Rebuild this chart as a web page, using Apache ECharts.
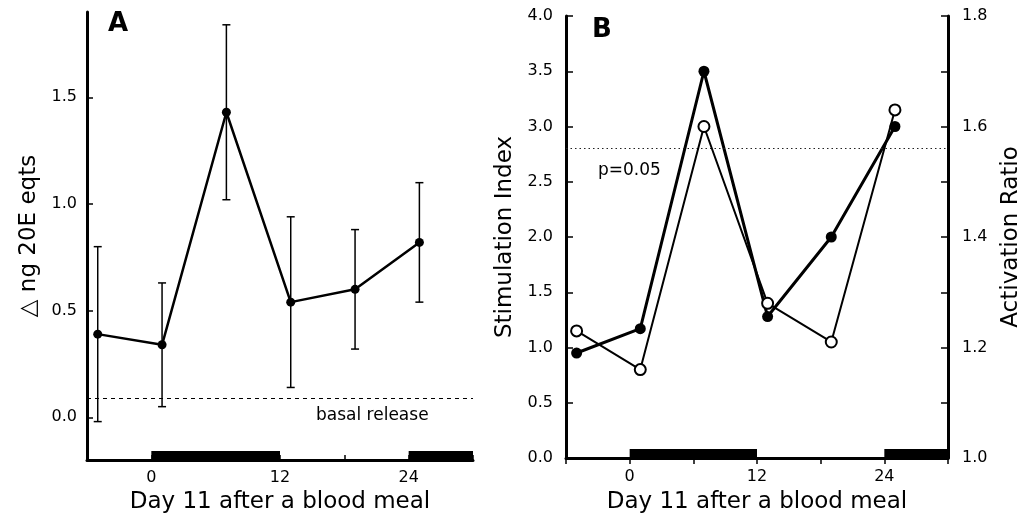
<!DOCTYPE html>
<html>
<head>
<meta charset="utf-8">
<script src="https://cdn.jsdelivr.net/npm/echarts@6/dist/echarts.min.js"></script>
<style>html,body{margin:0;padding:0;background:#fff}#c{width:1029px;height:519px}</style>
</head>
<body>
<div id="c"></div>
<script>
// ---- data ----
const hours = [-5, 1, 7, 13, 19, 25];
const releaseA = [0.39, 0.34, 1.43, 0.54, 0.60, 0.82];
const releaseLow = [-0.02, 0.05, 1.02, 0.14, 0.32, 0.54];
const releaseHigh = [0.80, 0.63, 1.84, 0.94, 0.88, 1.10];
const stimIndex = [0.95, 1.17, 3.5, 1.28, 2.0, 3.0];
const activationRatio = [1.23, 1.16, 1.60, 1.28, 1.21, 1.63];
const basalRelease = 0.09;
const pThreshold = 2.8;
const darkPeriods = [[0, 12], [24, 30]];
const xTickLabels = [0, 12, 24];
const yTicksA = [0, 0.5, 1.0, 1.5];
const xTitle = 'Day 11 after a blood meal';
const yTitleA = '\u25B3 ng 20E eqts';
const yTitleB = 'Stimulation Index';
const yTitleB2 = 'Activation Ratio';

const FONT = '"DejaVu Sans", sans-serif';
const yMinA = -0.2, yMaxA = 1.9;
const yMinB = 0;

const chart = echarts.init(document.getElementById('c'), null, {renderer: 'canvas'});

function zip(xs, ys) { return xs.map((x, i) => [x, ys[i]]); }

function darkRender(yMin) {
  return function (params, api) {
    const s = api.coord([api.value(0), yMin]);
    const e = api.coord([api.value(1), yMin]);
    return {type: 'rect', shape: {x: s[0], y: s[1] - 9, width: e[0] - s[0], height: 9}, style: {fill: '#000'}};
  };
}

function errRender(params, api) {
  const x = api.value(0);
  const lo = api.coord([x, api.value(1)]);
  const hi = api.coord([x, api.value(2)]);
  const w = 4;
  const st = {stroke: '#000', lineWidth: 1.5};
  return {type: 'group', children: [
    {type: 'line', shape: {x1: lo[0], y1: lo[1], x2: hi[0], y2: hi[1]}, style: st},
    {type: 'line', shape: {x1: lo[0] - w, y1: lo[1], x2: lo[0] + w, y2: lo[1]}, style: st},
    {type: 'line', shape: {x1: hi[0] - w, y1: hi[1], x2: hi[0] + w, y2: hi[1]}, style: st}
  ]};
}

const labelStyle = {color: '#000', fontSize: 16, fontFamily: FONT};
const nameStyle = {color: '#000', fontSize: 23, fontFamily: FONT};

const option = {
  animation: false,
  backgroundColor: '#fff',
  textStyle: {fontFamily: FONT},
  grid: [
    {left: 87, top: 12, width: 386, height: 448},
    {left: 566, top: 16, width: 382, height: 448}
  ],
  xAxis: [
    {
      gridIndex: 0, type: 'value', min: -6, max: 30, interval: 6,
      axisLine: {onZero: false, lineStyle: {color: '#000', width: 3}},
      axisTick: {inside: true, length: 5, lineStyle: {color: '#000', width: 1.5}},
      axisLabel: Object.assign({customValues: xTickLabels, margin: 10}, labelStyle),
      splitLine: {show: false},
      name: xTitle, nameLocation: 'middle', nameGap: 24, nameTextStyle: nameStyle
    },
    {
      gridIndex: 1, type: 'value', min: -6, max: 30, interval: 6,
      axisLine: {onZero: false, lineStyle: {color: '#000', width: 3}},
      axisTick: {inside: false, length: 6, lineStyle: {color: '#000', width: 1.5}},
      axisLabel: Object.assign({customValues: xTickLabels, margin: 11}, labelStyle),
      splitLine: {show: false},
      name: xTitle, nameLocation: 'middle', nameGap: 33, nameTextStyle: nameStyle
    }
  ],
  yAxis: [
    {
      gridIndex: 0, type: 'value', min: yMinA, max: yMaxA,
      axisLine: {show: true, onZero: false, lineStyle: {color: '#000', width: 3}},
      axisTick: {inside: true, length: 6, customValues: yTicksA, lineStyle: {color: '#000', width: 1.5}},
      axisLabel: Object.assign({customValues: yTicksA, margin: 10, formatter: v => v.toFixed(1)}, labelStyle),
      splitLine: {show: false},
      name: yTitleA, nameLocation: 'middle', nameGap: 46, nameRotate: 90, nameTextStyle: nameStyle
    },
    {
      gridIndex: 1, type: 'value', min: 0, max: 4, interval: 0.5, position: 'left',
      axisLine: {show: true, onZero: false, lineStyle: {color: '#000', width: 3}},
      axisTick: {inside: true, length: 7, lineStyle: {color: '#000', width: 1.5}},
      axisLabel: Object.assign({margin: 13, formatter: v => v.toFixed(1)}, labelStyle),
      splitLine: {show: false},
      name: yTitleB, nameLocation: 'middle', nameGap: 49, nameRotate: 90, nameTextStyle: nameStyle
    },
    {
      gridIndex: 1, type: 'value', min: 1.0, max: 1.8, interval: 0.1, position: 'right',
      axisLine: {show: true, onZero: false, lineStyle: {color: '#000', width: 3}},
      axisTick: {inside: true, length: 7, lineStyle: {color: '#000', width: 1.5}},
      axisLabel: Object.assign({margin: 14, formatter: v => (Math.round(v * 10) % 2 === 0 ? v.toFixed(1) : '')}, labelStyle),
      splitLine: {show: false},
      name: yTitleB2, nameLocation: 'middle', nameGap: 52, nameRotate: 90, nameTextStyle: nameStyle
    }
  ],
  series: [
    {
      type: 'custom', xAxisIndex: 0, yAxisIndex: 0, clip: false, silent: true,
      data: darkPeriods, renderItem: darkRender(yMinA), z: 5
    },
    {
      type: 'custom', xAxisIndex: 0, yAxisIndex: 0, clip: false, silent: true,
      data: hours.map((h, i) => [h, releaseLow[i], releaseHigh[i]]), renderItem: errRender, z: 3
    },
    {
      type: 'line', xAxisIndex: 0, yAxisIndex: 0, data: zip(hours, releaseA),
      symbol: 'circle', symbolSize: 9, itemStyle: {color: '#000'},
      lineStyle: {color: '#000', width: 2.5}, z: 4,
      markLine: {
        silent: true, symbol: 'none', label: {show: false},
        lineStyle: {color: '#000', type: [4, 4], width: 1},
        data: [{yAxis: basalRelease}]
      }
    },
    {
      type: 'custom', xAxisIndex: 1, yAxisIndex: 1, clip: false, silent: true,
      data: darkPeriods, renderItem: darkRender(yMinB), z: 5
    },
    {
      type: 'line', xAxisIndex: 1, yAxisIndex: 1, data: zip(hours, stimIndex),
      symbol: 'circle', symbolSize: 11, itemStyle: {color: '#000'},
      lineStyle: {color: '#000', width: 3}, z: 4,
      markLine: {
        silent: true, symbol: 'none', label: {show: false},
        lineStyle: {color: '#222', type: [1.5, 3], width: 1},
        data: [{yAxis: pThreshold}]
      }
    },
    {
      type: 'line', xAxisIndex: 1, yAxisIndex: 2, data: zip(hours, activationRatio),
      symbol: 'circle', symbolSize: 11,
      itemStyle: {color: '#fff', borderColor: '#000', borderWidth: 2},
      lineStyle: {color: '#000', width: 2}, z: 5
    }
  ],
  graphic: [
    {type: 'text', left: 108, top: 11, style: {text: 'A', font: 'bold 26px ' + FONT, fill: '#000'}},
    {type: 'text', left: 592, top: 17, style: {text: 'B', font: 'bold 26px ' + FONT, fill: '#000'}},
    {type: 'text', left: 316, top: 407, style: {text: 'basal release', font: '17px ' + FONT, fill: '#000'}},
    {type: 'text', left: 598, top: 162, style: {text: 'p=0.05', font: '17px ' + FONT, fill: '#000'}}
  ]
};
chart.setOption(option);
</script>
</body>
</html>
